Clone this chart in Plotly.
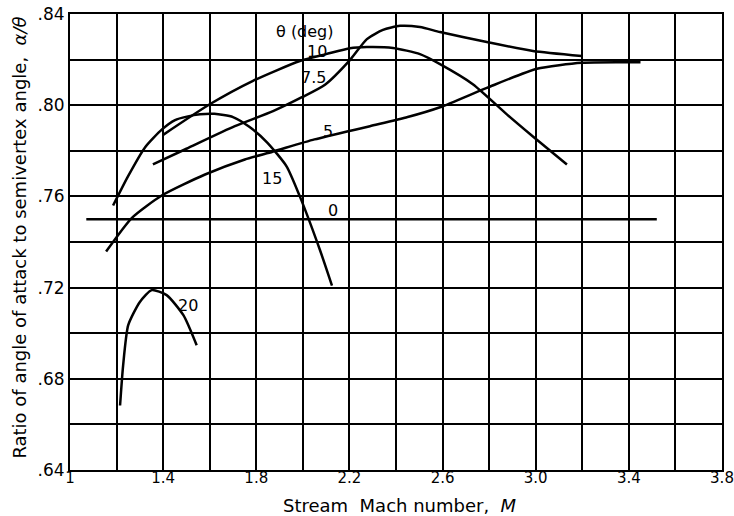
import plotly.graph_objects as go

# ---- data ----
m_theta0 = [1.07, 3.52]
r_theta0 = [0.750, 0.750]

m_theta5 = [1.155, 1.266, 1.394, 1.58, 1.751, 1.87, 2.05, 2.288, 2.45, 2.589, 2.79, 3.005, 3.198, 3.45]
r_theta5 = [0.7358, 0.7506, 0.7604, 0.7696, 0.7762, 0.7796, 0.7850, 0.7908, 0.7948, 0.7991, 0.8076, 0.8160, 0.8186, 0.8188]

m_theta75 = [1.356, 1.5, 1.708, 1.872, 1.996, 2.095, 2.202, 2.275, 2.344, 2.417, 2.503, 2.589, 2.79, 2.988, 3.198]
r_theta75 = [0.774, 0.7809, 0.7908, 0.7974, 0.8035, 0.8090, 0.8198, 0.8290, 0.8330, 0.8348, 0.8343, 0.8321, 0.8277, 0.8238, 0.8216]

m_theta10 = [1.40, 1.60, 1.786, 1.987, 2.10, 2.202, 2.275, 2.387, 2.503, 2.589, 2.73, 2.876, 2.988, 3.134]
r_theta10 = [0.787, 0.8004, 0.8107, 0.8194, 0.8224, 0.8250, 0.8255, 0.8251, 0.8224, 0.8180, 0.8092, 0.7960, 0.7863, 0.7740]

m_theta15 = [1.185, 1.249, 1.322, 1.395, 1.451, 1.502, 1.558, 1.62, 1.70, 1.77, 1.846, 1.93, 1.987, 2.073, 2.125]
r_theta15 = [0.756, 0.7688, 0.7815, 0.7894, 0.7935, 0.7950, 0.7960, 0.7962, 0.7948, 0.7905, 0.7837, 0.7732, 0.7600, 0.7366, 0.7209]

m_theta20 = [1.215, 1.228, 1.25, 1.30, 1.351, 1.415, 1.487, 1.544]
r_theta20 = [0.6683, 0.6857, 0.7035, 0.7137, 0.7189, 0.7167, 0.7079, 0.6947]

x_tickvals = [1.0, 1.2, 1.4, 1.6, 1.8, 2.0, 2.2, 2.4, 2.6, 2.8, 3.0, 3.2, 3.4, 3.6, 3.8]
x_ticktext = ["1", "", "1.4", "", "1.8", "", "2.2", "", "2.6", "", "3.0", "", "3.4", "", "3.8"]
y_tickvals = [0.64, 0.66, 0.68, 0.70, 0.72, 0.74, 0.76, 0.78, 0.80, 0.82, 0.84]
y_ticktext = [".64", "", ".68", "", ".72", "", ".76", "", ".80", "", ".84"]

label_text = ["\u03b8 (deg)", "10", "7.5", "5", "15", "0", "20"]
label_m = [2.01, 2.06, 2.045, 2.11, 1.867, 2.13, 1.508]
label_r = [0.8323, 0.8236, 0.8120, 0.7886, 0.7679, 0.7537, 0.7122]

FONT = "DejaVu Sans"

fig = go.Figure()
series = [
    (m_theta0, r_theta0), (m_theta5, r_theta5), (m_theta75, r_theta75),
    (m_theta10, r_theta10), (m_theta15, r_theta15), (m_theta20, r_theta20),
]
for mx, ry in series:
    fig.add_trace(go.Scatter(
        x=mx, y=ry, mode="lines",
        line=dict(color="black", width=2.5, shape="spline", smoothing=0.6),
        showlegend=False, hoverinfo="skip",
    ))

for t, mx, ry in zip(label_text, label_m, label_r):
    fig.add_annotation(x=mx, y=ry, text=t, showarrow=False,
                       font=dict(family=FONT, size=16, color="black"))

fig.add_annotation(xref="paper", yref="paper", x=0.506, y=-0.0768,
                   text="Stream  Mach number,  <i>M</i>", showarrow=False,
                   font=dict(family=FONT, size=18, color="black"),
                   xanchor="center", yanchor="middle")
fig.add_annotation(xref="paper", yref="paper", x=-0.078, y=0.51,
                   text="Ratio of angle of attack to semivertex angle,  <i>\u03b1/\u03b8</i>",
                   textangle=-90, showarrow=False,
                   font=dict(family=FONT, size=18, color="black"),
                   xanchor="center", yanchor="middle")

fig.update_xaxes(range=[1.0, 3.8], tickvals=x_tickvals, ticktext=x_ticktext,
                 showgrid=True, gridcolor="black", gridwidth=1.5,
                 showline=True, linecolor="black", linewidth=2, mirror=True,
                 ticks="", zeroline=False, ticklabelstandoff=-7,
                 ticklabeloverflow="allow",
                 tickfont=dict(family=FONT, size=15, color="black"))
fig.update_yaxes(range=[0.64, 0.84], tickvals=y_tickvals, ticktext=y_ticktext,
                 showgrid=True, gridcolor="black", gridwidth=1.5,
                 showline=True, linecolor="black", linewidth=2, mirror=True,
                 ticks="", zeroline=False, ticklabelstandoff=0,
                 ticklabeloverflow="allow",
                 tickfont=dict(family=FONT, size=17, color="black"))

fig.update_layout(width=734, height=516,
                  margin=dict(l=70, r=12, t=14, b=46, autoexpand=False),
                  paper_bgcolor="white", plot_bgcolor="white")

fig.write_html("out.html", config={"displayModeBar": False},
               post_script="document.body.style.margin='0px';")
